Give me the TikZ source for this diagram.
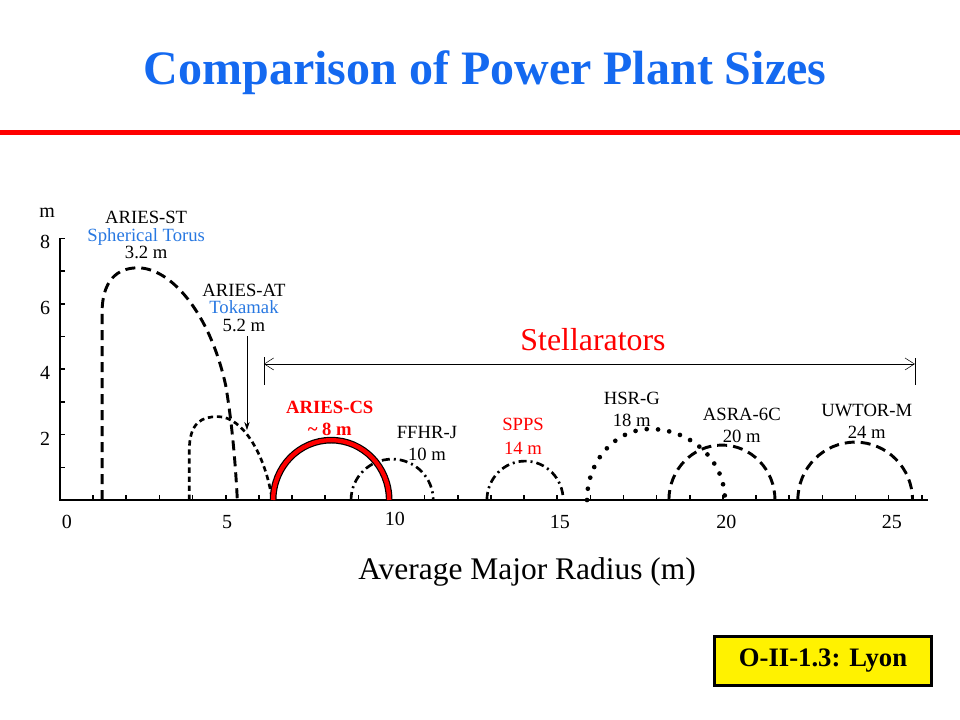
\documentclass[tikz,border=0pt]{standalone}
\usepackage{fontspec}
\setmainfont{Liberation Serif}
\usetikzlibrary{arrows.meta}
\definecolor{titleblue}{RGB}{20,105,240}
\definecolor{lblblue}{RGB}{40,120,225}
\begin{document}
\begin{tikzpicture}[x=0.75pt,y=-0.75pt,
        lbl/.style={align=center, font=\fontsize{14}{13}\selectfont},
        lblw/.style={align=center, font=\fontsize{14}{16.5}\selectfont},
        num/.style={font=\fontsize{15}{15}\selectfont},
        longdash/.style={line width=2.2pt, dash pattern=on 7.5pt off 4.5pt},
        shortdash/.style={line width=2pt, dash pattern=on 4pt off 2.8pt},
        dashdot/.style={line width=2pt, dash pattern=on 6pt off 3pt on 1.5pt off 3pt},
        bigdots/.style={line width=3.5pt, dash pattern=on 0pt off 8.5pt, line cap=round}]
    \useasboundingbox (0,0) rectangle (960,720);

    \node[font=\fontsize{36}{38}\selectfont\bfseries, text=titleblue] (title) at (485,73) {Comparison of Power Plant Sizes};
    \draw[red, line width=3.75pt] (0,133) -- (960,133);

    \begin{scope}[shift={(60,500)}, x=24.86pt, y=24.525pt]
        % axes
        \draw[line width=2pt] (0,8) -- (0,0) -- (26.2,0);
        \foreach \k in {1,...,8} \draw[line width=1.2pt] (0,\k) -- (0.15,\k);
        \foreach \k in {1,...,26} \draw[line width=1.2pt] (\k,0) -- (\k,0.15);

        \node[num] (m) at (-0.39,8.78) {m};
        \foreach \k in {2,4,6,8} \node[num] (y\k) at (-0.45,\k-0.12) {\k};
        \node[num] (x0) at (0.21,-0.67) {0};
        \node[num] (x5) at (5.04,-0.67) {5};
        \node[num] (x10) at (10.1,-0.58) {10};
        \node[num] (x15) at (15.08,-0.67) {15};
        \node[num] (x20) at (20.1,-0.67) {20};
        \node[num] (x25) at (25.1,-0.67) {25};
        \node[font=\fontsize{23.6}{24}\selectfont] (xlab) at (14.09,-2.2) {Average Major Radius (m)};

        % tokamaks
        \draw[longdash] (1.27,0) -- (1.27,5.8) .. controls (1.3,6.9) and (1.9,7.1) .. (2.35,7.1)
            .. controls (3.3,7.1) and (4.5,5.8) .. (5.0,3.5) .. controls (5.2,2.3) and (5.3,1) .. (5.35,0);
        \draw[shortdash] (3.9,0) -- (3.9,1.5) .. controls (3.9,2.4) and (4.3,2.55) .. (4.77,2.55)
            .. controls (5.5,2.55) and (6.2,1.4) .. (6.4,0);

        % stellarators
        \draw[dashdot] (8.78,0) arc[start angle=180, end angle=0, x radius=1.24, y radius=1.25];
        \draw[black, line width=5pt] (6.43,0) arc[start angle=180, end angle=0, x radius=1.75, y radius=1.83];
        \draw[red, line width=3.2pt] (6.43,0) arc[start angle=180, end angle=0, x radius=1.75, y radius=1.83];
        \draw[dashdot] (12.88,0) arc[start angle=180, end angle=0, x radius=1.15, y radius=1.19];
        \draw[bigdots] (15.9,0) arc[start angle=180, end angle=90, x radius=1.9, y radius=2.17]
            arc[start angle=90, end angle=0, x radius=2.26, y radius=2.17];
        \draw[longdash] (18.37,0) arc[start angle=180, end angle=0, x radius=1.6, y radius=1.68];
        \draw[longdash] (22.26,0) arc[start angle=180, end angle=0, x radius=1.73, y radius=1.77];

        % labels
        \node[lbl] (st) at (2.6,8.1) {ARIES-ST\\\textcolor{lblblue}{Spherical Torus}\\3.2 m};
        \node[lbl] (at) at (5.55,5.88) {ARIES-AT\\\textcolor{lblblue}{Tokamak}\\5.2 m};
        \coordinate (attip) at (5.64,2.14);
        \draw[-{Stealth[length=6pt,width=4pt]}, thin] (at.south -| attip) -- (attip);

        \node[lblw, text=red, font=\fontsize{14}{16.5}\selectfont\bfseries] (cs) at (8.14,2.48) {ARIES-CS\\\textasciitilde\ 8 m};
        \node[lblw] (ffhr) at (11.07,1.74) {FFHR-J\\10 m};
        \node[lblw, text=red, font=\fontsize{14}{18}\selectfont] (spps) at (13.97,1.96) {SPPS\\14 m};
        \node[lblw] (hsr) at (17.25,2.77) {HSR-G\\18 m};
        \node[lblw] (asra) at (20.57,2.28) {ASRA-6C\\20 m};
        \node[lblw] (uwtor) at (24.34,2.42) {UWTOR-M\\24 m};

        % stellarator range
        \coordinate (sl) at (6.15,4.16);
        \coordinate (sr) at (25.79,4.16);
        \draw[thin] (sl) ++(0,0.21) -- ++(0,-0.85);
        \draw[thin] (sr) ++(0,0.18) -- ++(0,-0.82);
        \draw[{Straight Barb[length=7pt,width=9pt]}-{Straight Barb[length=7pt,width=9pt]}, thin] (sl) -- (sr);
        \node[font=\fontsize{23.9}{24}\selectfont, text=red] (stell) at (16.08,4.92) {Stellarators};
    \end{scope}

    \node[draw, line width=2.25pt, fill=yellow, minimum width=163pt, minimum height=37pt,
        font=\fontsize{20}{20}\selectfont\bfseries] (tag) at (823,661) {O-II-1.3: Lyon};
\end{tikzpicture}
\end{document}
